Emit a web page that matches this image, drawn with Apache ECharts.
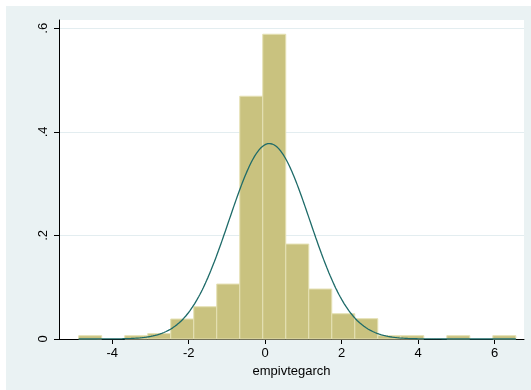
<!DOCTYPE html>
<html>
<head>
<meta charset="utf-8">
<script src="https://cdn.jsdelivr.net/npm/echarts@6/dist/echarts.min.js"></script>
<style>
  html, body { margin: 0; padding: 0; background: #ffffff; }
  #chart { position: absolute; left: 6px; top: 6px; width: 525px; height: 384px; }
</style>
</head>
<body>
<div id="chart"></div>
<script>
// Histogram of empivtegarch (density scale) with a normal density overlay.
const binLefts = [-4.876, -4.275, -3.673, -3.071, -2.470, -1.868, -1.267, -0.665, -0.064,
                  0.538, 1.139, 1.741, 2.342, 2.944, 3.545, 4.147, 4.748, 5.350, 5.951];
const binWidth = 0.6015;
const densities = [0.0064, 0, 0.0064, 0.0105, 0.0386, 0.0623, 0.1061, 0.4688, 0.5885,
                   0.1833, 0.0965, 0.0488, 0.0392, 0.0064, 0.0064, 0, 0.0064, 0, 0.0064];

// Normal density with the sample mean and standard deviation.
const normalMean = 0.11;
const normalSd = 1.057;
const dataMin = -4.876;
const dataMax = 6.553;

const xTicks = [-4, -2, 0, 2, 4, 6];
const yTicks = [0, 0.2, 0.4, 0.6];
const yTickLabels = ['0', '.2', '.4', '.6'];

const xTitle = 'empivtegarch';

const barData = [];
binLefts.forEach((l, i) => {
  if (densities[i] > 0) barData.push([l, l + binWidth, densities[i]]);
});

const curve = [];
const nSteps = 400;
for (let i = 0; i <= nSteps; i++) {
  const x = dataMin + (dataMax - dataMin) * i / nSteps;
  const z = (x - normalMean) / normalSd;
  curve.push([x, Math.exp(-0.5 * z * z) / (normalSd * Math.sqrt(2 * Math.PI))]);
}

const font = '"Liberation Sans", Arial, sans-serif';

const chart = echarts.init(document.getElementById('chart'), null, { renderer: 'canvas' });
chart.setOption({
  backgroundColor: '#eaf2f3',
  animation: false,
  grid: {
    left: 53, top: 14, right: 7, bottom: 51,
    show: true, backgroundColor: '#ffffff', borderWidth: 0
  },
  xAxis: {
    type: 'value',
    min: -5.391, max: 6.766,
    name: xTitle,
    nameLocation: 'middle',
    nameGap: 20,
    nameTextStyle: { color: '#000', fontFamily: font, fontSize: 13 },
    axisLine: { show: true, onZero: false, lineStyle: { color: '#000', width: 1 } },
    axisTick: { show: true, length: 5, customValues: xTicks, lineStyle: { color: '#000' } },
    axisLabel: { customValues: xTicks, margin: 8, color: '#000', fontFamily: font, fontSize: 13 },
    splitLine: { show: false }
  },
  yAxis: {
    type: 'value',
    min: 0, max: 0.616,
    axisLine: { show: true, onZero: false, lineStyle: { color: '#000', width: 1 } },
    axisTick: { show: true, length: 5, customValues: yTicks, lineStyle: { color: '#000' } },
    axisLabel: {
      customValues: yTicks, rotate: 90, margin: 9, color: '#000',
      fontFamily: font, fontSize: 13,
      formatter: v => yTickLabels[yTicks.indexOf(Math.round(v * 10) / 10)] ?? ''
    },
    splitLine: { show: true, lineStyle: { color: '#e3edf0', width: 1 } }
  },
  series: [
    {
      type: 'custom',
      data: barData,
      renderItem: (params, api) => {
        const p0 = api.coord([api.value(0), api.value(2)]);
        const p1 = api.coord([api.value(1), 0]);
        return {
          type: 'rect',
          shape: { x: p0[0], y: p0[1], width: p1[0] - p0[0], height: p1[1] - p0[1] },
          style: { fill: '#c9c27f', stroke: '#e5e1b4', lineWidth: 1 }
        };
      },
      z: 2
    },
    {
      type: 'line',
      data: curve,
      showSymbol: false,
      smooth: false,
      lineStyle: { color: '#1e6b69', width: 1.3 },
      z: 3
    }
  ]
});
</script>
</body>
</html>
